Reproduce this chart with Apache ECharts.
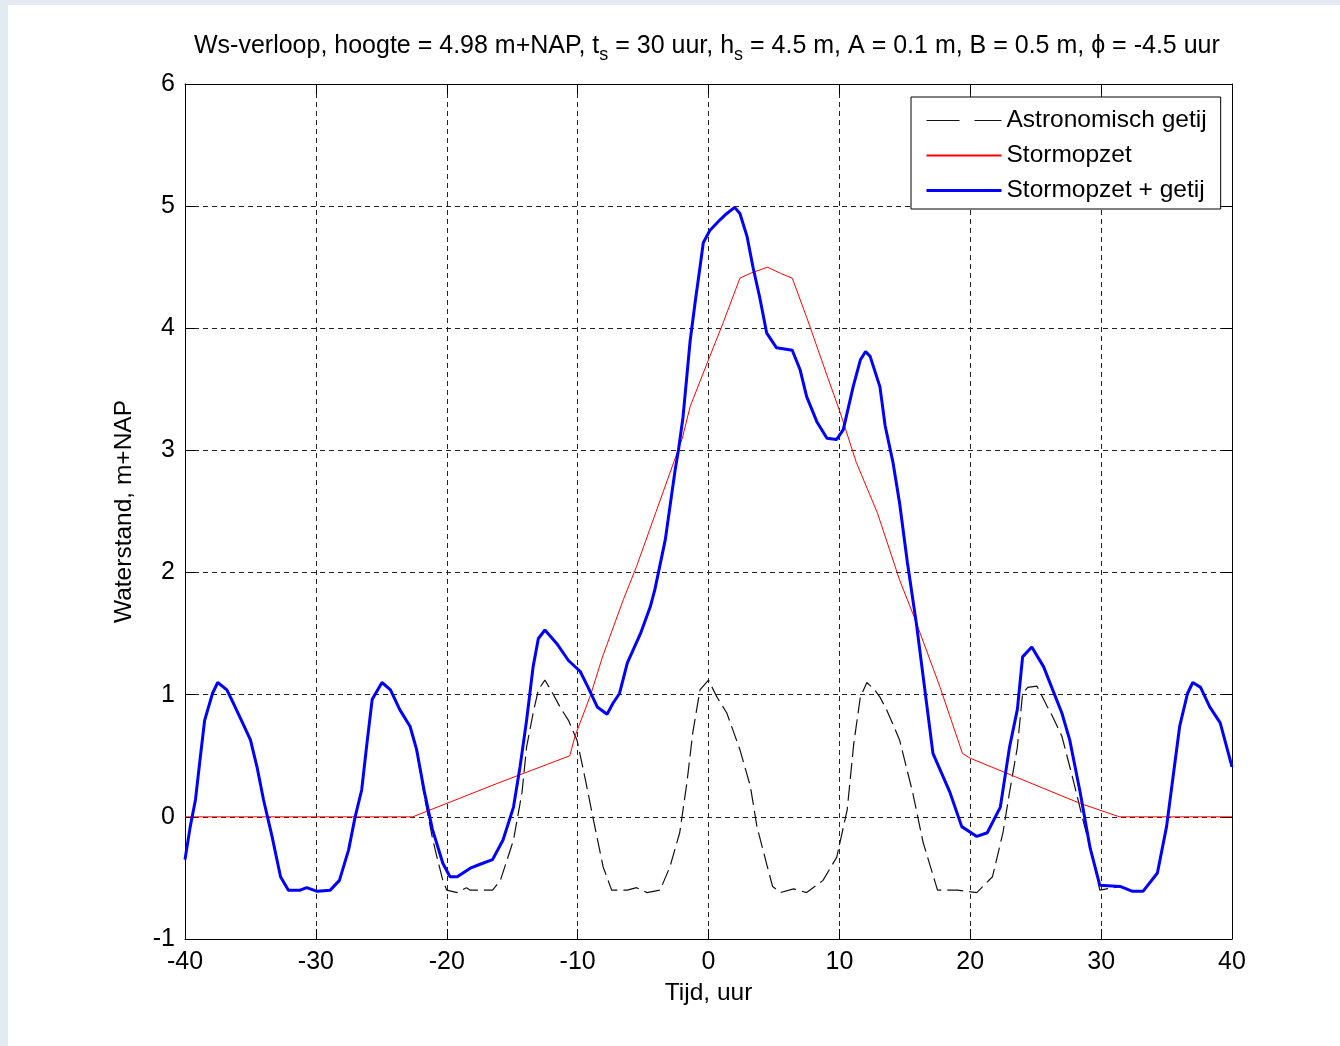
<!DOCTYPE html>
<html>
<head>
<meta charset="utf-8">
<script src="https://cdn.jsdelivr.net/npm/echarts@6/dist/echarts.min.js"></script>
<style>
  html, body { margin: 0; padding: 0; background: #e4eaf1; }
  #panel { position: absolute; left: 8px; top: 5px; right: 0; bottom: 0; background: #fff; }
  #chart { position: absolute; left: 0; top: 0; width: 1340px; height: 1046px; }
</style>
</head>
<body>
<div id="panel"></div>
<div id="chart"></div>
<script>
// values: [tijd (uur), waterstand (m+NAP)]
var tide = [
  [-40,-0.35],[-39.6,-0.08],[-39.2,0.14],[-38.85,0.47],[-38.5,0.79],[-37.9,1.01],[-37.5,1.10],
  [-36.8,1.04],[-36.3,0.93],[-35.6,0.77],[-35.0,0.63],[-34.5,0.41],[-34.0,0.14],[-33.35,-0.16],
  [-32.7,-0.49],[-32.1,-0.6],[-31.2,-0.6],[-30.7,-0.58],[-29.9,-0.61],[-28.9,-0.6],[-28.2,-0.52],
  [-27.5,-0.27],[-27.0,0.0],[-26.5,0.22],[-26.1,0.6],[-25.7,0.96],[-24.95,1.10],[-24.3,1.04],
  [-23.6,0.88],[-22.8,0.74],[-22.3,0.54],[-21.7,0.16],[-21.1,-0.17],[-20.75,-0.33],[-20.3,-0.52],
  [-20.0,-0.6],[-19.2,-0.62],[-18.5,-0.58],[-18.2,-0.6],[-16.5,-0.6],[-15.9,-0.52],[-14.9,-0.19],
  [-14.25,0.2],[-13.9,0.57],[-13.4,0.85],[-13.0,1.04],[-12.5,1.12],[-11.9,1.01],[-11.35,0.9],
  [-10.7,0.79],[-10.05,0.63],[-9.4,0.3],[-8.8,-0.02],[-8.05,-0.41],[-7.4,-0.6],[-6.2,-0.6],
  [-5.5,-0.58],[-4.7,-0.62],[-3.7,-0.6],[-2.95,-0.41],[-2.2,-0.13],[-1.65,0.28],[-1.2,0.69],
  [-0.65,1.04],[0,1.12],[0.65,0.98],[1.4,0.85],[2.4,0.55],[3.2,0.25],[3.7,-0.08],[4.5,-0.41],
  [4.9,-0.57],[5.5,-0.62],[6.5,-0.59],[7.5,-0.62],[8.75,-0.52],[9.8,-0.33],[10.6,0.06],[11.1,0.6],
  [11.6,0.98],[12.1,1.1],[12.7,1.04],[13.1,0.98],[13.6,0.88],[14.6,0.63],[15.6,0.2],[16.4,-0.21],
  [17.5,-0.6],[19.0,-0.6],[20.5,-0.62],[21.7,-0.49],[22.5,-0.13],[23.0,0.2],[23.6,0.57],[24.0,1.01],
  [24.4,1.06],[25.1,1.07],[25.9,0.9],[26.3,0.82],[27.0,0.66],[27.8,0.33],[28.6,-0.02],[29.4,-0.35],
  [29.9,-0.6],[31.45,-0.57],[32.4,-0.61],[33.2,-0.61],[34.3,-0.46],[35.0,-0.08],[35.5,0.33],
  [36.0,0.74],[36.6,1.01],[37.0,1.1],[37.6,1.06],[38.3,0.9],[39.1,0.77],[40,0.41]
];

var surge = [
  [-40,0],[-22.6,0],[-16,0.28],[-10.6,0.5],[-10.2,0.66],[-9,1.0],[-8.1,1.31],[-6.5,1.78],
  [-5.5,2.05],[-4,2.5],[-2,3.1],[-1.4,3.36],[0.1,3.77],[1.1,4.04],[2.4,4.41],[3.2,4.45],
  [4.5,4.5],[5.5,4.45],[6.4,4.41],[7.5,4.09],[9.1,3.6],[10,3.33],[11.3,2.9],[12.9,2.49],
  [14.6,1.94],[15.7,1.64],[17.7,1.06],[19.4,0.52],[20,0.48],[25.9,0.22],[28.4,0.11],[31.4,0],[40,0]
];

var total = [
  [-40,-0.35],[-39.6,-0.08],[-39.2,0.14],[-38.85,0.47],[-38.5,0.79],[-37.9,1.01],[-37.5,1.10],
  [-36.8,1.04],[-36.3,0.93],[-35.6,0.77],[-35.0,0.63],[-34.5,0.41],[-34.0,0.14],[-33.35,-0.16],
  [-32.7,-0.49],[-32.1,-0.6],[-31.2,-0.6],[-30.7,-0.58],[-29.9,-0.61],[-28.9,-0.6],[-28.2,-0.52],
  [-27.5,-0.27],[-27.0,0.0],[-26.5,0.22],[-26.1,0.6],[-25.7,0.96],[-24.95,1.10],[-24.3,1.04],
  [-23.6,0.88],[-22.8,0.74],[-22.3,0.55],[-21.7,0.2],[-21.1,-0.1],[-20.3,-0.38],[-19.75,-0.49],
  [-19.2,-0.49],[-18.2,-0.42],[-17.5,-0.39],[-16.5,-0.35],[-15.7,-0.19],[-14.9,0.08],[-14.4,0.41],
  [-13.9,0.79],[-13.4,1.23],[-13.0,1.46],[-12.5,1.53],[-11.6,1.42],[-10.7,1.28],[-9.8,1.19],
  [-9.2,1.06],[-8.5,0.9],[-7.75,0.84],[-7.3,0.93],[-6.8,1.01],[-6.2,1.26],[-5.2,1.5],[-4.45,1.72],
  [-4.1,1.86],[-3.3,2.27],[-2.55,2.84],[-2.3,3.0],[-1.95,3.27],[-1.4,3.9],[-1.0,4.23],[-0.65,4.5],
  [-0.4,4.7],[0.1,4.8],[0.9,4.89],[1.4,4.94],[2.0,4.99],[2.4,4.94],[2.95,4.75],[3.4,4.5],[3.9,4.26],
  [4.45,3.96],[5.2,3.84],[6.4,3.82],[7.0,3.66],[7.5,3.44],[8.3,3.23],[9.05,3.1],[9.8,3.09],
  [10.3,3.17],[11.05,3.52],[11.6,3.74],[12.0,3.81],[12.35,3.77],[13.1,3.52],[13.5,3.2],[14.1,2.9],
  [14.6,2.57],[15.2,2.08],[15.9,1.57],[16.4,1.15],[17.15,0.52],[18.45,0.2],[19.35,-0.08],
  [20.5,-0.16],[21.3,-0.13],[22.3,0.08],[23.0,0.57],[23.6,0.88],[24.0,1.31],[24.7,1.39],[25.6,1.23],
  [26.3,1.04],[27.0,0.85],[27.6,0.63],[28.4,0.2],[29.15,-0.25],[29.9,-0.56],[31.45,-0.57],
  [32.4,-0.61],[33.2,-0.61],[34.3,-0.46],[35.0,-0.08],[35.5,0.33],[36.0,0.74],[36.6,1.01],
  [37.0,1.1],[37.6,1.06],[38.3,0.9],[39.1,0.77],[40,0.41]
];

var seriesNames = ['Astronomisch getij', 'Stormopzet', 'Stormopzet + getij'];
var xRange = [-40, 40, 10];
var yRange = [-1, 6, 1];

var font = '"Liberation Sans", Arial, sans-serif';
var ink = '#000';
var gridInk = '#222';
var tideInk = '#111';
var surgeInk = '#ff0000';
var totalInk = '#0000ff';

function frameAxis(pos, range) {
  return {
    type: 'value', position: pos, min: range[0], max: range[1], interval: range[2],
    axisLine: { show: true, onZero: false, lineStyle: { color: ink, width: 1 } },
    axisTick: { show: true, inside: true, length: 10, lineStyle: { color: ink } },
    axisLabel: { show: false },
    splitLine: { show: false }
  };
}

var chart = echarts.init(document.getElementById('chart'), null, { renderer: 'canvas' });
chart.setOption({
  animation: false,
  backgroundColor: 'transparent',
  textStyle: { fontFamily: font },
  title: {
    text: 'Ws-verloop, hoogte = 4.98 m+NAP, t{s|s} = 30 uur, h{s|s} = 4.5 m, A = 0.1 m, B = 0.5 m, \u03d5 = -4.5 uur',
    left: 189, top: 24,
    textStyle: {
      fontFamily: font, fontSize: 25, fontWeight: 'normal', color: ink,
      rich: { s: { fontFamily: font, fontSize: 18, color: ink, padding: [17, 0, 0, 0] } }
    }
  },
  legend: {
    orient: 'vertical', left: 911, top: 97,
    padding: [11, 14, 6, 14],
    itemWidth: 75, itemHeight: 20, itemGap: 10,
    backgroundColor: '#fff', borderColor: ink, borderWidth: 1,
    textStyle: { fontFamily: font, fontSize: 24.5, color: ink, padding: [0, 0, 0, 0] },
    itemStyle: { opacity: 0 },
    data: [
      { name: seriesNames[0], lineStyle: { color: tideInk, type: [33, 15], width: 1.2 }, itemStyle: { opacity: 0 } },
      { name: seriesNames[1], itemStyle: { opacity: 0 } },
      { name: seriesNames[2], lineStyle: { color: totalInk, width: 3 }, itemStyle: { opacity: 0 } }
    ]
  },
  grid: { left: 185, right: 108, top: 84, bottom: 107, outerBoundsMode: 'none' },
  xAxis: [
    {
      type: 'value', min: xRange[0], max: xRange[1], interval: xRange[2],
      name: 'Tijd, uur', nameLocation: 'middle', nameGap: 42,
      nameTextStyle: { fontFamily: font, fontSize: 24.5, color: ink },
      axisLine: { show: true, onZero: false, lineStyle: { color: ink, width: 1 } },
      axisTick: { show: true, inside: true, length: 10, lineStyle: { color: ink } },
      axisLabel: { fontFamily: font, fontSize: 25, color: ink, margin: 11 },
      splitLine: { show: true, lineStyle: { color: gridInk, type: [5, 4], width: 1 } }
    },
    frameAxis('top', xRange)
  ],
  yAxis: [
    {
      type: 'value', min: yRange[0], max: yRange[1], interval: yRange[2],
      name: 'Waterstand, m+NAP', nameLocation: 'middle', nameGap: 48,
      nameTextStyle: { fontFamily: font, fontSize: 24.5, color: ink },
      axisLine: { show: true, onZero: false, lineStyle: { color: ink, width: 1 } },
      axisTick: { show: true, inside: true, length: 10, lineStyle: { color: ink } },
      axisLabel: { fontFamily: font, fontSize: 25, color: ink, margin: 10 },
      splitLine: { show: true, lineStyle: { color: gridInk, type: [5, 4], width: 1 } }
    },
    frameAxis('right', yRange)
  ],
  series: [
    {
      name: seriesNames[0], type: 'line', data: tide, symbol: 'none',
      lineStyle: { color: tideInk, width: 1.2, type: [16, 6] }, itemStyle: { color: tideInk }, z: 2
    },
    {
      name: seriesNames[1], type: 'line', data: surge, symbol: 'none',
      lineStyle: { color: surgeInk, width: 1 }, itemStyle: { color: surgeInk }, z: 3
    },
    {
      name: seriesNames[2], type: 'line', data: total, symbol: 'none',
      lineStyle: { color: totalInk, width: 3 }, itemStyle: { color: totalInk }, z: 4
    }
  ]
});
window.addEventListener('resize', function() { chart.resize(); });
</script>
</body>
</html>
